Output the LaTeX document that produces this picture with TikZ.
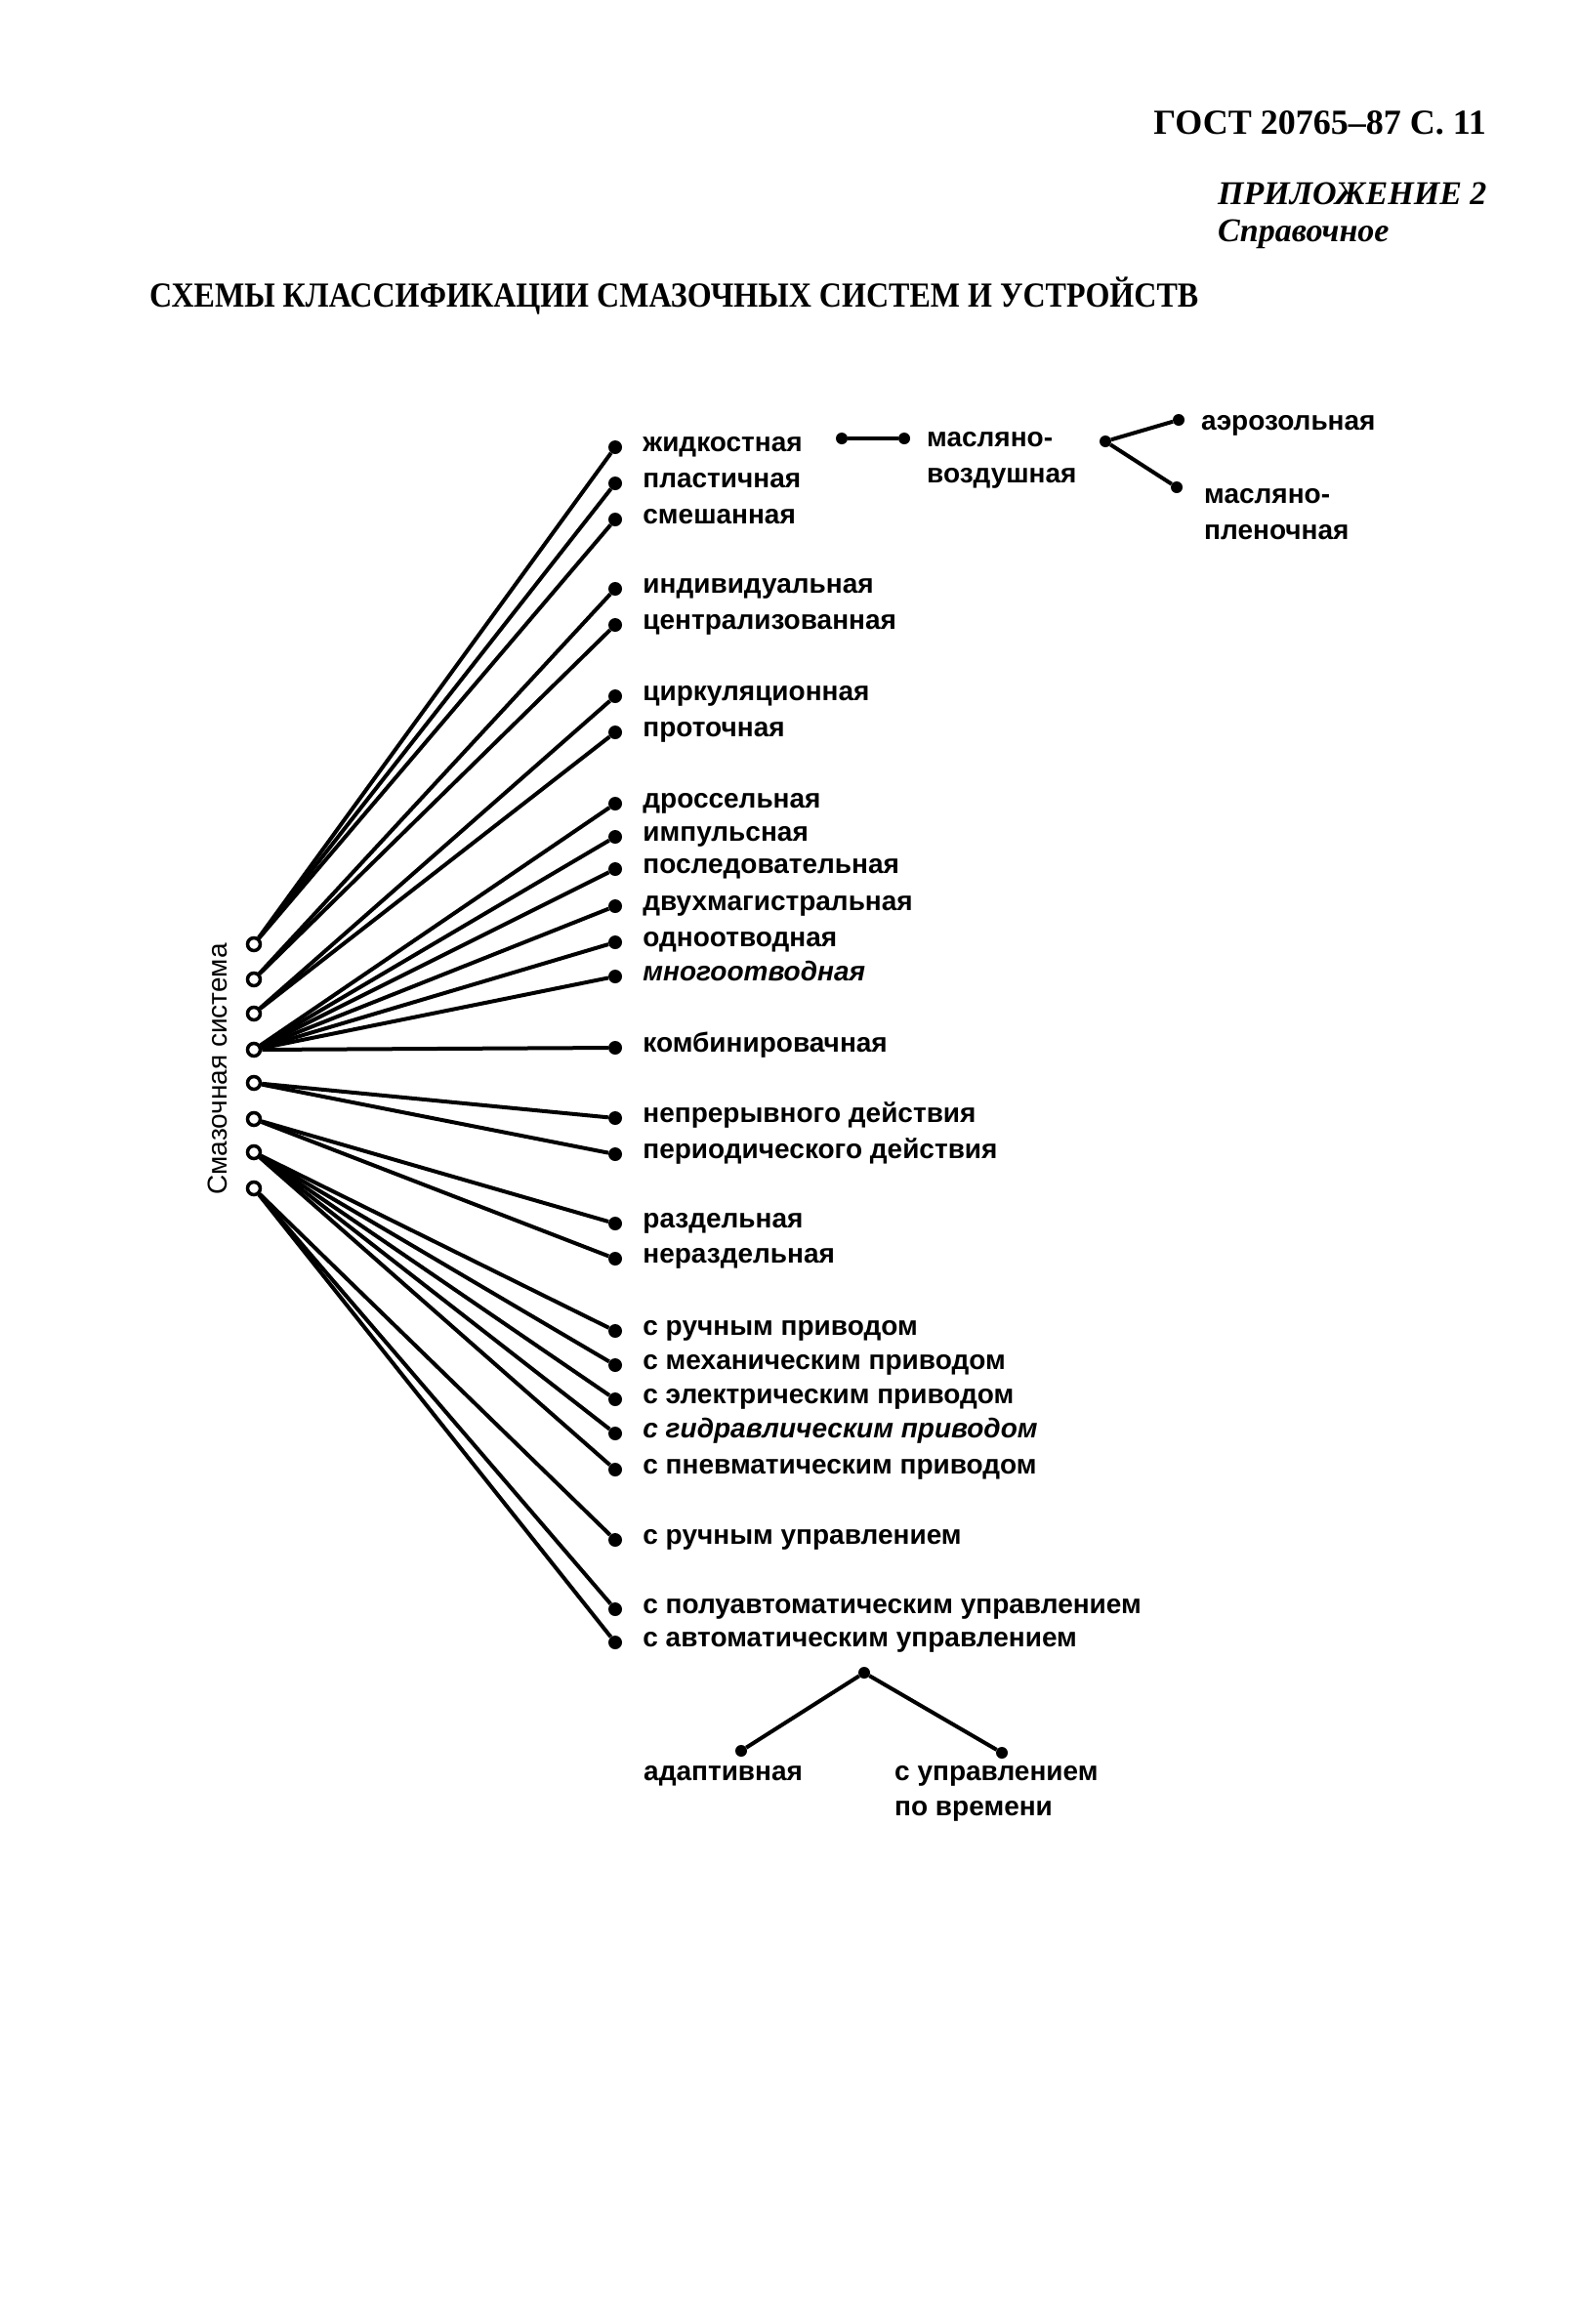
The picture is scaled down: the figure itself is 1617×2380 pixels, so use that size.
\documentclass[tikz,border=0pt]{standalone}
\usepackage{fontspec}
\setmainfont{Liberation Serif}
\setsansfont{Liberation Sans}
\usetikzlibrary{positioning}

\begin{document}
\begin{tikzpicture}[x=1pt, y=-1pt,
    root/.style={circle, draw=black, line width=3.5pt, fill=white, minimum size=13pt, inner sep=0pt},
    leaf/.style={circle, fill=black, minimum size=14pt, inner sep=0pt},
    knot/.style={circle, fill=black, minimum size=12pt, inner sep=0pt},
    item/.style={font=\fontsize{28}{33}\selectfont\sffamily\bfseries, inner sep=0pt, anchor=base west},
    entry/.style={item, base right=21pt of #1, yshift=-4pt},
    edge/.style={line width=4pt},
]

\fill[white] (0,0) rectangle (1617,2380);
\useasboundingbox (0,0) rectangle (1617,2380);

% === HEADER ===
\node[font=\fontsize{36}{42}\selectfont\bfseries, inner sep=0pt, anchor=base east] (gost) at (1522,137) {ГОСТ 20765–87 С. 11};
\node[font=\fontsize{34}{40}\selectfont\bfseries\itshape, inner sep=0pt, anchor=base west] (appx) at (1247,209) {ПРИЛОЖЕНИЕ 2};
\node[font=\fontsize{34}{40}\selectfont\bfseries\itshape, inner sep=0pt, anchor=base west] (refr) at (1247,247) {Справочное};

% === TITLE ===
\node[font=\fontsize{36}{42}\selectfont\bfseries, inner sep=0pt, anchor=base west] (title) at (153,314) {\scalebox{0.89}[1]{СХЕМЫ КЛАССИФИКАЦИИ СМАЗОЧНЫХ СИСТЕМ И УСТРОЙСТВ}};

% === ROOT (vertical caption + 8 open circles) ===
\node[font=\fontsize{28}{34}\selectfont\sffamily, inner sep=0pt, rotate=90, anchor=base] (sys) at (232,1095) {Смазочная система};
\node[root] (s1) at (260,967) {};
\node[root] (s2) at (260,1003) {};
\node[root] (s3) at (260,1038) {};
\node[root] (s4) at (260,1075) {};
\node[root] (s5) at (260,1109) {};
\node[root] (s6) at (260,1146) {};
\node[root] (s7) at (260,1180) {};
\node[root] (s8) at (260,1217) {};

% === LEAVES ===
% s1: kind of lubricant
\node[leaf] (d1) at (630,458) {};
\node[entry=d1] (l1) {жидкостная};
\node[leaf] (d2) at (630,495) {};
\node[entry=d2] (l2) {пластичная};
\node[leaf] (d3) at (630,532) {};
\node[entry=d3] (l3) {смешанная};
% s2
\node[leaf] (d4) at (630,603) {};
\node[entry=d4] (l4) {индивидуальная};
\node[leaf] (d5) at (630,640) {};
\node[entry=d5] (l5) {централизованная};
% s3
\node[leaf] (d6) at (630,713) {};
\node[entry=d6] (l6) {циркуляционная};
\node[leaf] (d7) at (630,750) {};
\node[entry=d7] (l7) {проточная};
% s4: feeders
\node[leaf] (d8) at (630,823) {};
\node[entry=d8] (l8) {дроссельная};
\node[leaf] (d9) at (630,857) {};
\node[entry=d9] (l9) {импульсная};
\node[leaf] (d10) at (630,890) {};
\node[entry=d10] (l10) {последовательная};
\node[leaf] (d11) at (630,928) {};
\node[entry=d11] (l11) {двухмагистральная};
\node[leaf] (d12) at (630,965) {};
\node[entry=d12] (l12) {одноотводная};
\node[leaf] (d13) at (630,1000) {};
\node[entry=d13] (l13) {\itshape многоотводная};
\node[leaf] (d14) at (630,1073) {};
\node[entry=d14] (l14) {комбинировачная};
% s5: action
\node[leaf] (d15) at (630,1145) {};
\node[entry=d15] (l15) {непрерывного действия};
\node[leaf] (d16) at (630,1182) {};
\node[entry=d16] (l16) {периодического действия};
% s6
\node[leaf] (d17) at (630,1253) {};
\node[entry=d17] (l17) {раздельная};
\node[leaf] (d18) at (630,1289) {};
\node[entry=d18] (l18) {нераздельная};
% s7: drive
\node[leaf] (d19) at (630,1363) {};
\node[entry=d19] (l19) {с ручным приводом};
\node[leaf] (d20) at (630,1398) {};
\node[entry=d20] (l20) {с механическим приводом};
\node[leaf] (d21) at (630,1433) {};
\node[entry=d21] (l21) {с электрическим приводом};
\node[leaf] (d22) at (630,1468) {};
\node[entry=d22] (l22) {\itshape с гидравлическим приводом};
\node[leaf] (d23) at (630,1505) {};
\node[entry=d23] (l23) {с пневматическим приводом};
% s8: control
\node[leaf] (d24) at (630,1577) {};
\node[entry=d24] (l24) {с ручным управлением};
\node[leaf] (d25) at (630,1648) {};
\node[entry=d25] (l25) {с полуавтоматическим управлением};
\node[leaf] (d26) at (630,1682) {};
\node[entry=d26] (l26) {с автоматическим управлением};

% === ROOT -> LEAF EDGES ===
\foreach \d in {1,2,3} \draw[edge] (s1) -- (d\d);
\foreach \d in {4,5} \draw[edge] (s2) -- (d\d);
\foreach \d in {6,7} \draw[edge] (s3) -- (d\d);
\foreach \d in {8,...,14} \draw[edge] (s4) -- (d\d);
\foreach \d in {15,16} \draw[edge] (s5) -- (d\d);
\foreach \d in {17,18} \draw[edge] (s6) -- (d\d);
\foreach \d in {19,...,23} \draw[edge] (s7) -- (d\d);
\foreach \d in {24,25,26} \draw[edge] (s8) -- (d\d);

% === OIL-AIR BRANCH ===
\node[knot] (k1) at (862,449) {};
\node[knot] (k2) at (926,449) {};
\draw[edge] (k1) -- (k2);
\node[item] (ma1) at (949,457) {масляно-};
\node[item] (ma2) at (949,494) {воздушная};
\node[knot] (k3) at (1132,452) {};
\node[knot] (k4) at (1207,430) {};
\node[knot] (k5) at (1205,499) {};
\draw[edge] (k3) -- (k4);
\draw[edge] (k3) -- (k5);
\node[item] (aer) at (1230,440) {аэрозольная};
\node[item] (mp1) at (1233,515) {масляно-};
\node[item] (mp2) at (1233,552) {пленочная};

% === AUTOMATIC CONTROL BRANCH ===
\node[knot] (k6) at (885,1713) {};
\node[knot] (k7) at (759,1793) {};
\node[knot] (k8) at (1026,1795) {};
\draw[edge] (k6) -- (k7);
\draw[edge] (k6) -- (k8);
\node[item] (adp) at (659,1823) {адаптивная};
\node[item] (tm1) at (916,1823) {с управлением};
\node[item] (tm2) at (916,1859) {по времени};

\end{tikzpicture}
\end{document}
